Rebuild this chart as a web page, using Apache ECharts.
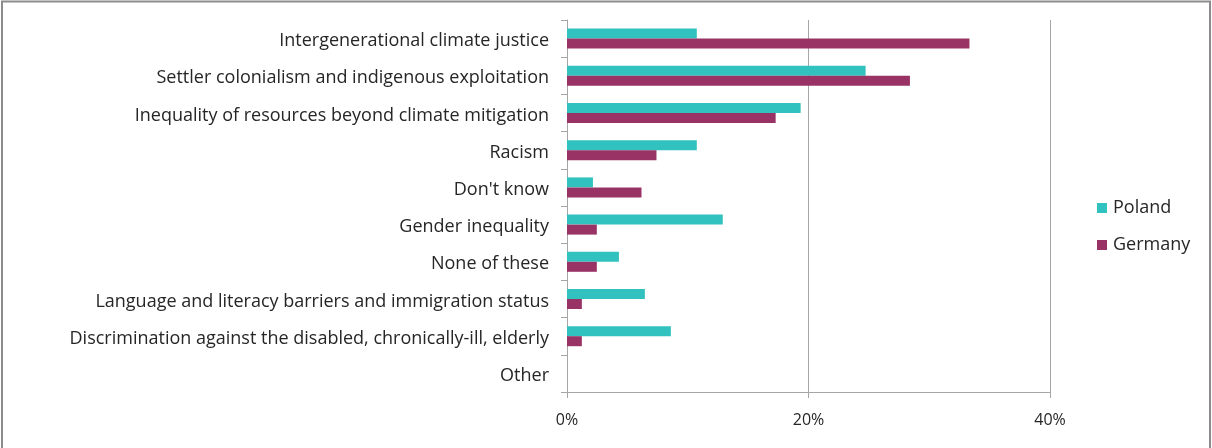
<!DOCTYPE html>
<html>
<head>
<meta charset="utf-8">
<script src="https://cdn.jsdelivr.net/npm/echarts@6/dist/echarts.min.js"></script>
<style>
  html, body { margin: 0; padding: 0; background: #ffffff; }
  #chart { width: 1212px; height: 448px; }
</style>
</head>
<body>
<div id="chart"></div>
<script>
// Categories, top to bottom
const categories = [
  'Intergenerational climate justice',
  'Settler colonialism and indigenous exploitation',
  'Inequality of resources beyond climate mitigation',
  'Racism',
  "Don't know",
  'Gender inequality',
  'None of these',
  'Language and literacy barriers and immigration status',
  'Discrimination against the disabled, chronically-ill, elderly',
  'Other'
];

// Share of respondents (%)
const poland = [10.75, 24.73, 19.35, 10.75, 2.15, 12.90, 4.30, 6.45, 8.60, 0];
const germany = [33.33, 28.40, 17.28, 7.41, 6.17, 2.47, 2.47, 1.23, 1.23, 0];

const xTicks = [0, 20, 40];

const seriesNames = ['Poland', 'Germany'];
const colors = ['#31C1BF', '#993366'];

const FONT = '"Open Sans", "Liberation Sans", sans-serif';
const AXIS_GREY = '#A6A6A6';
const TEXT = '#262626';

const chart = echarts.init(document.getElementById('chart'), null, { renderer: 'canvas' });

chart.setOption({
  animation: false,
  color: colors,
  textStyle: { fontFamily: FONT },
  graphic: [{
    type: 'rect',
    shape: { x: 2, y: 1.5, width: 1208, height: 480 },
    style: { fill: 'none', stroke: '#8C8C8C', lineWidth: 2 },
    silent: true
  }],
  grid: { left: 567, right: 162, top: 20, bottom: 56 },
  legend: {
    orient: 'vertical',
    left: 1097,
    top: 199,
    padding: 0,
    itemWidth: 10,
    itemHeight: 10,
    itemGap: 19,
    icon: 'rect',
    data: seriesNames,
    textStyle: { fontFamily: FONT, fontSize: 18, lineHeight: 18, color: TEXT, padding: [0, 0, 0, 1] }
  },
  xAxis: {
    type: 'value',
    min: xTicks[0],
    max: xTicks[xTicks.length - 1],
    interval: xTicks[1] - xTicks[0],
    axisLine: { show: true, lineStyle: { color: AXIS_GREY, width: 1 } },
    axisTick: { show: true, length: 6, lineStyle: { color: AXIS_GREY } },
    splitLine: { show: true, lineStyle: { color: AXIS_GREY, width: 1 } },
    axisLabel: {
      formatter: '{value}%',
      fontFamily: FONT, fontSize: 16, color: TEXT, margin: 20
    }
  },
  yAxis: {
    type: 'category',
    inverse: true,
    data: categories,
    axisLine: { show: true, lineStyle: { color: AXIS_GREY, width: 1 } },
    axisTick: { show: true, length: 6, alignWithLabel: false, lineStyle: { color: AXIS_GREY } },
    axisLabel: {
      margin: 18,
      formatter: '{t|{value}}',
      rich: {
        t: { fontFamily: FONT, fontSize: 18, color: TEXT, padding: [5, 0, 0, 0] }
      }
    }
  },
  series: [
    {
      name: seriesNames[0],
      type: 'bar',
      data: poland,
      barWidth: 10,
      barGap: '0%',
      itemStyle: { color: colors[0] }
    },
    {
      name: seriesNames[1],
      type: 'bar',
      data: germany,
      barWidth: 10,
      barGap: '0%',
      itemStyle: { color: colors[1] }
    }
  ]
});
</script>
</body>
</html>
